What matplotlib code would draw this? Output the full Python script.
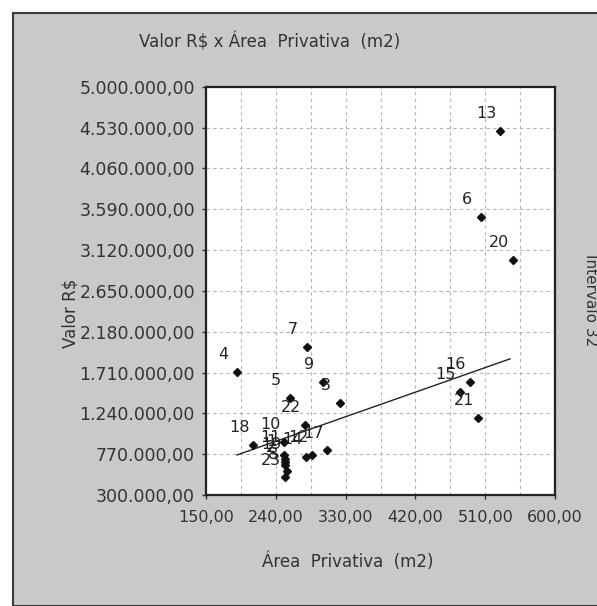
import numpy as np
import matplotlib
matplotlib.use("Agg")
import matplotlib.pyplot as plt
from matplotlib.patches import Rectangle
from matplotlib.ticker import FuncFormatter

# Dados
labels = ["1", "2", "3", "4", "5", "6", "7", "8", "9", "10", "11", "12",
          "13", "14", "15", "16", "17", "18", "19", "20", "21", "22", "23"]
area = [252, 252, 323, 190, 258, 505, 280, 254, 301, 251, 251, 287,
        529, 279, 477, 490, 306, 211, 252, 546, 501, 278, 252]
valor = [715000, 646000, 1360000, 1717000, 1417000, 3503000, 2005000, 576000,
         1602000, 911000, 761000, 761000, 4493000, 738000, 1487000, 1602000,
         818000, 876000, 680000, 3007000, 1187000, 1106000, 507000]

# reta ajustada (extremos)
fit_x = [190, 542]
fit_y = [761000, 1867000]

xticks = [150, 240, 330, 420, 510, 600]
xgrid = [195, 285, 375, 465, 555]
yticks = [300000, 770000, 1240000, 1710000, 2180000, 2650000,
          3120000, 3590000, 4060000, 4530000, 5000000]

W, H = 597, 606
fig = plt.figure(figsize=(W / 100, H / 100), dpi=100)
fig.patch.set_facecolor("white")
plt.rcParams["font.family"] = "DejaVu Sans"

# painel cinza
fig.patches.append(Rectangle((13 / W, 0), 1, (H - 13) / H, transform=fig.transFigure,
                             facecolor="#c9c9c9", edgecolor="#3a3a3a", lw=1.5, zorder=-10))

ax = fig.add_axes([206 / W, 111 / H, 349 / W, 408.3 / H])
ax.set_zorder(5)
ax.set_facecolor("white")


def br(v, pos=None):
    s = "{:,.2f}".format(v)
    return s.replace(",", "X").replace(".", ",").replace("X", ".")


grid_kw = dict(color="#b5b5b5", lw=0.8, ls=(0, (3, 3)), zorder=1)
for g in xticks[1:-1] + xgrid:
    ax.axvline(g, **grid_kw)
for g in yticks[1:-1]:
    ax.axhline(g, **grid_kw)

ax.plot(fit_x, fit_y, color="#222222", lw=1.0, zorder=2)
ax.plot(area, valor, ls="none", marker="D", ms=4.5, color="#111111", zorder=3)
for lb, x, y in zip(labels, area, valor):
    ax.annotate(lb, (x, y), xytext=(-14, 17), textcoords="offset pixels",
                ha="center", va="center", fontsize=11.5, color="#222222", zorder=4)

ax.set_xlim(150, 600)
ax.set_ylim(300000, 5000000)
ax.set_xticks(xticks)
ax.set_yticks(yticks)
ax.xaxis.set_major_formatter(FuncFormatter(br))
ax.yaxis.set_major_formatter(FuncFormatter(br))
ax.tick_params(labelsize=12.5, colors="#333333", length=3, width=1, pad=5)
ax.tick_params(axis="x", labelsize=11.5, pad=8)
for s in ax.spines.values():
    s.set_linewidth(1.6)
    s.set_color("#222222")

fig.text(270 / W, 1 - 42 / H, "Valor R$ x Área  Privativa  (m2)", ha="center",
         va="center", fontsize=12, color="#333333")
fig.text(348 / W, 1 - 562 / H, "Área  Privativa  (m2)", ha="center", va="center",
         fontsize=12, color="#333333")
fig.text(70 / W, 1 - 313 / H, "Valor R$", ha="center", va="center", rotation=90,
         fontsize=12, color="#333333")
fig.text(590 / W, 1 - 300 / H, "Intervalo 32", ha="center", va="center",
         rotation=-90, fontsize=11, color="#333333")

fig.savefig("out.png", dpi=100, facecolor=fig.get_facecolor())
